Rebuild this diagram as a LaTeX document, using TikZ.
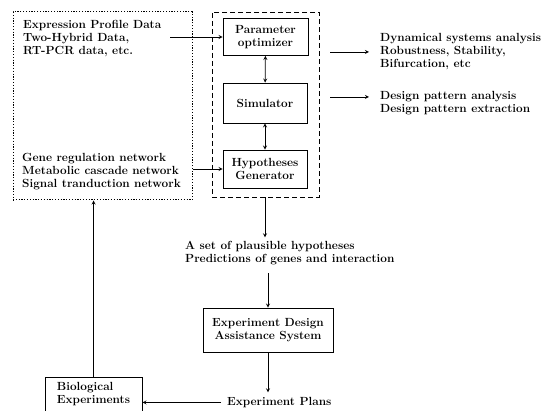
\documentclass[tikz,border=0pt]{standalone}
\usepackage{tikz}
\usetikzlibrary{arrows,calc,positioning}

\begin{document}
\begin{tikzpicture}[
    x=1pt, y=-1pt,
    >=stealth,
    font=\bfseries\fontsize{11.8}{13.2}\selectfont,
    txt/.style  = {inner sep = 0pt, anchor = north west, align = left},
    blk/.style  = {draw, thick, inner sep = 2pt, align = center},
    core/.style = {draw, thick, dash pattern = on 5pt off 3pt},
    src/.style  = {draw, line width = 1pt, dash pattern = on 1.2pt off 1.6pt},
  ]
	\useasboundingbox (0,0) rectangle (546,411);

	% Eingangsbox links (gepunktet)
	\node (inbox) at (102.5,106) [src, minimum width = 179pt, minimum height = 188pt]{};
	\node (data) at (23,20) [txt]{Expression Profile Data\\Two-Hybrid Data,\\RT-PCR data, etc.};
	\node (net) at (22,153) [txt]{Gene regulation network\\Metabolic cascade network\\Signal tranduction network};

	% Kern (gestrichelt) mit drei Modulen
	\node (core) at (265.5,104.5) [core, minimum width = 107pt, minimum height = 185pt]{};
	\node (param) at (265.5,37) [blk, minimum width = 85pt, minimum height = 37pt]{Parameter\\optimizer};
	\node (sim) at (265,103) [blk, minimum width = 84pt, minimum height = 40pt]{Simulator};
	\node (hyp) at (265,169) [blk, minimum width = 84pt, minimum height = 38pt]{Hypotheses\\Generator};

	% Verbindungen im Kern
	\draw[thick,<->] (param) -- (sim);
	\draw[thick,<->] (sim) -- (hyp);

	% Eingaenge in den Kern
	\coordinate (d0) at (170,37);
	\draw[thick,->] (d0) -- (param.west);
	\draw[thick,->] (inbox.east |- hyp.west) -- (hyp.west);

	% Ausgaenge rechts
	\node (dyn) at (380,33) [txt]{Dynamical systems analysis\\Robustness, Stability,\\Bifurcation, etc};
	\node (dsg) at (380,91) [txt]{Design pattern analysis\\Design pattern extraction};
	\coordinate (o1) at (330,52);
	\coordinate (o2) at (330,97);
	\draw[thick,->] (o1) -- ($(o1 -| dyn.west) + (-11,0)$);
	\draw[thick,->] (o2) -- ($(o2 -| dsg.west) + (-11,0)$);

	% Hypothesen
	\node (plaus) at (185,241) [txt]{A set of plausible hypotheses\\Predictions of genes and interaction};
	\draw[thick,->] (core.south -| hyp) -- ($(core.south -| hyp) + (0,40)$) coordinate (p0);

	% Versuchsplanung
	\node (edas) at (268,330) [blk, minimum width = 130pt, minimum height = 44pt]{Experiment Design\\Assistance System};
	\coordinate (p1) at ($(plaus.south -| edas) + (0,8)$);
	\draw[thick,->] (p1) -- (edas.north);
	\node (plans) at (227,397) [txt]{Experiment Plans};
	\draw[thick,->] (edas.south) -- ($(edas.south) + (0,40)$);

	% Biologische Experimente
	\node (bio) at (93.5,394) [blk, minimum width = 97pt, minimum height = 34pt, align = left]{Biological\\Experiments};
	\draw[thick,->] ($(plans.west) + (-6,0)$) -- ($(plans.west -| bio.east)$);
	\draw[thick,->] (bio.north) -- (bio.north |- inbox.south);

\end{tikzpicture}
\end{document}
